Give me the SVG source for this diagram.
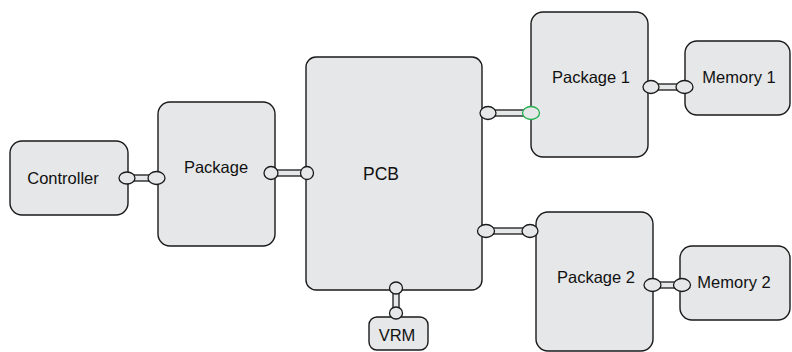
<svg xmlns="http://www.w3.org/2000/svg" width="792" height="352" viewBox="0 0 792 352">
<style>
.box{fill:#e6e7e8;stroke:#1a1a1a;stroke-width:1.4}
.lbl{font-family:"Liberation Sans",Arial,sans-serif;font-size:16.5px;fill:#111;text-anchor:middle}
.bar{fill:#e6e7e8;stroke:#1a1a1a;stroke-width:1.3}
.port{fill:#e6e7e8;stroke:#1a1a1a;stroke-width:1.3}
.port-g{fill:#e6e7e8;stroke:#22b04b;stroke-width:1.3}
</style>
<rect width="792" height="352" fill="#ffffff"/>
<g id="controller"><rect class="box" x="10" y="141" width="118" height="74" rx="12"/><text class="lbl" x="63" y="183.5">Controller</text></g>
<g id="package"><rect class="box" x="158" y="102" width="117" height="144" rx="12"/><text class="lbl" x="216" y="173">Package</text></g>
<g id="pcb"><rect class="box" x="306" y="57" width="176" height="233" rx="10"/><text class="lbl" x="381" y="180" style="font-size:17.5px">PCB</text></g>
<g id="package1"><rect class="box" x="531" y="12" width="117" height="145" rx="12"/><text class="lbl" x="591" y="83">Package 1</text></g>
<g id="memory1"><rect class="box" x="685" y="41" width="105" height="74" rx="12"/><text class="lbl" x="739" y="83">Memory 1</text></g>
<g id="package2"><rect class="box" x="536" y="212" width="117" height="139" rx="12"/><text class="lbl" x="596" y="282.5">Package 2</text></g>
<g id="memory2"><rect class="box" x="680" y="246" width="110" height="74" rx="12"/><text class="lbl" x="734" y="287.5">Memory 2</text></g>
<g id="vrm"><rect class="box" x="369" y="317" width="59" height="33" rx="8"/><text class="lbl" x="397" y="340.5">VRM</text></g>
<g id="connectors">
<g><rect class="bar" x="127" y="175" width="30" height="6"/><ellipse class="port" cx="127" cy="178" rx="8" ry="6"/><ellipse class="port" cx="156.5" cy="178" rx="8.5" ry="6.5"/></g>
<g><rect class="bar" x="271" y="170" width="36" height="6"/><ellipse class="port" cx="271" cy="173" rx="7" ry="6.5"/><ellipse class="port" cx="307" cy="173" rx="6.5" ry="6.5"/></g>
<g><rect class="bar" x="488" y="110" width="43" height="6"/><ellipse class="port" cx="488" cy="113" rx="8" ry="6.5"/><ellipse class="port-g" cx="531" cy="113" rx="8.5" ry="6.5"/></g>
<g><rect class="bar" x="486" y="228" width="44" height="6"/><ellipse class="port" cx="486" cy="231" rx="8.5" ry="6.5"/><ellipse class="port" cx="530" cy="231" rx="8" ry="6.5"/></g>
<g><rect class="bar" x="651" y="84" width="34" height="6"/><ellipse class="port" cx="651" cy="87" rx="8" ry="6.5"/><ellipse class="port" cx="684.5" cy="87" rx="8.5" ry="6.5"/></g>
<g><rect class="bar" x="652" y="282" width="30" height="6"/><ellipse class="port" cx="652.5" cy="285" rx="8.5" ry="6.5"/><ellipse class="port" cx="682" cy="285" rx="8.5" ry="6.5"/></g>
<g><rect class="bar" x="393" y="288" width="6" height="25"/><ellipse class="port" cx="396" cy="288" rx="6.5" ry="6"/><ellipse class="port" cx="396" cy="313" rx="6.5" ry="6"/></g>
</g>
</svg>
